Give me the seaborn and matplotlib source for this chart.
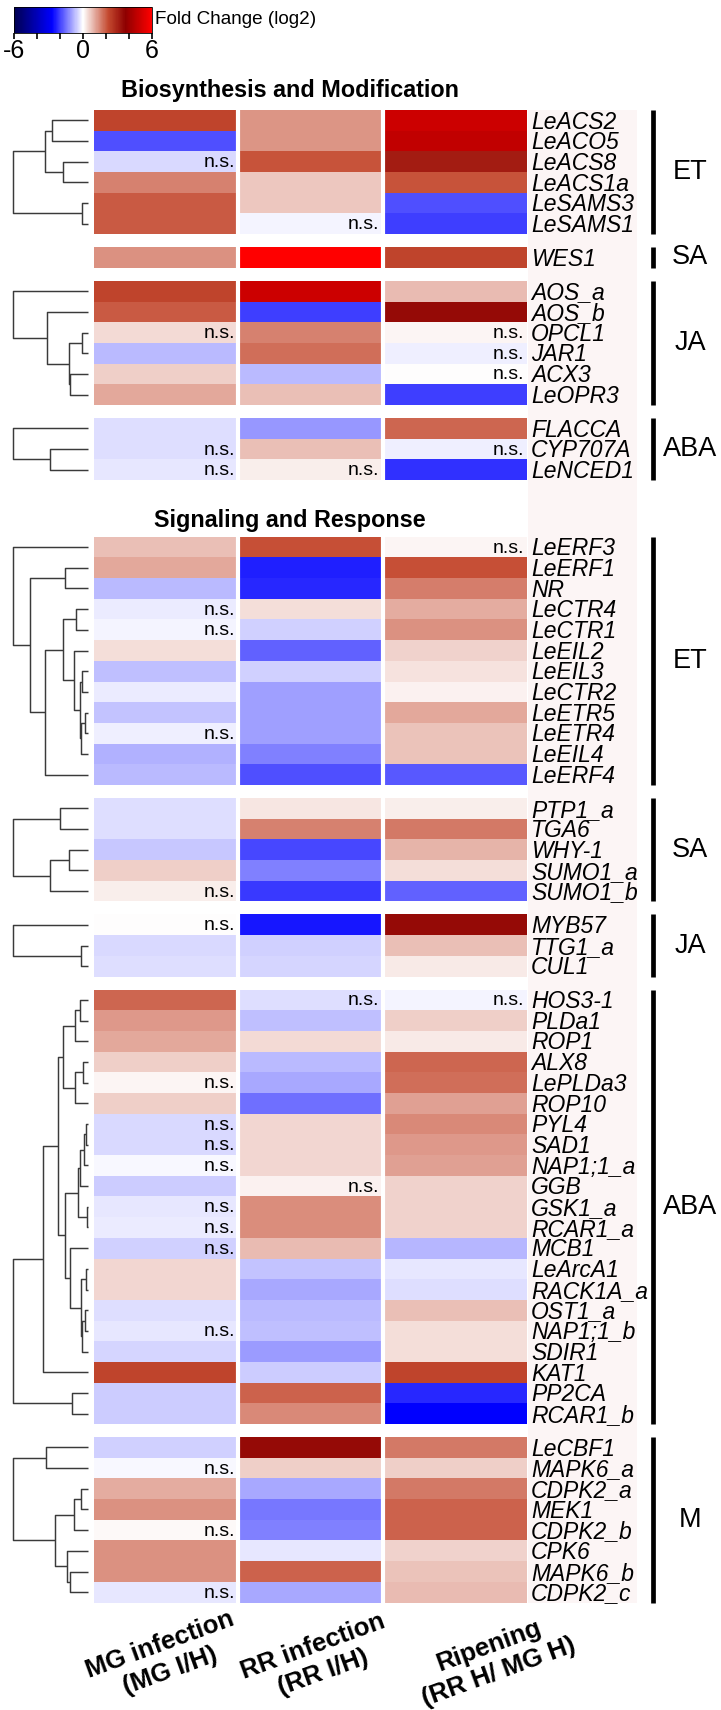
import numpy as np
import pandas as pd
import matplotlib
matplotlib.use("Agg")
import matplotlib.pyplot as plt
import seaborn as sns
from matplotlib.colors import LinearSegmentedColormap

plt.rcParams['font.family'] = ['Liberation Sans', 'DejaVu Sans']
plt.rcParams['axes.unicode_minus'] = False

# ---------------- data ----------------
conditions = ['MG infection\n(MG I/H)', 'RR infection\n(RR I/H)', 'Ripening\n(RR H/ MG H)']
cbar_ticks = [-6, 0, 6]
cbar_minor = [-4, -2, 2, 4]

sections = ['Biosynthesis and Modification', 'Signaling and Response']

bio_et_genes = ['LeACS2', 'LeACO5', 'LeACS8', 'LeACS1a', 'LeSAMS3', 'LeSAMS1']
bio_et_vals = [[2.3, 1.29, 4.96], [-1.85, 1.29, 4.72], [-0.41, 2.1, 3.1],
               [1.52, 0.67, 2.1], [2.0, 0.67, -1.85], [2.0, -0.1, -2.02]]
bio_et_ns = [('LeACS8', 0), ('LeSAMS1', 1)]
bio_et_tree = (1.0, (0.574, (0.475, 0, 1), (0.327, 2, 3)), (0.074, 4, 5))

bio_sa_genes = ['WES1']
bio_sa_vals = [[1.35, 6.0, 2.3]]
bio_sa_ns = []
bio_sa_tree = None

bio_ja_genes = ['AOS_a', 'AOS_b', 'OPCL1', 'JAR1', 'ACX3', 'LeOPR3']
bio_ja_vals = [[2.3, 4.96, 0.84], [2.0, -2.02, 3.5], [0.43, 1.54, 0.1],
               [-0.75, 1.74, -0.16], [0.6, -0.75, 0.0], [1.06, 0.77, -2.02]]
bio_ja_ns = [('OPCL1', 0), ('OPCL1', 2), ('JAR1', 2), ('ACX3', 2)]
bio_ja_tree = (1.0, 0, (0.55, 1, (0.26, (0.074, 2, 3), (0.235, 4, 5))))

bio_aba_genes = ['FLACCA', 'CYP707A', 'LeNCED1']
bio_aba_vals = [[-0.37, -1.09, 1.84], [-0.37, 0.77, -0.18], [-0.24, 0.21, -2.19]]
bio_aba_ns = [('CYP707A', 0), ('CYP707A', 2), ('LeNCED1', 0), ('LeNCED1', 1)]
bio_aba_tree = (1.0, 0, (0.512, 1, 2))

sig_et_genes = ['LeERF3', 'LeERF1', 'NR', 'LeCTR4', 'LeCTR1', 'LeEIL2', 'LeEIL3',
                'LeCTR2', 'LeETR5', 'LeETR4', 'LeEIL4', 'LeERF4']
sig_et_vals = [[0.77, 2.13, 0.12], [1.06, -2.36, 2.13], [-0.75, -2.28, 1.57],
               [-0.2, 0.38, 1.0], [-0.1, -0.5, 1.35], [0.38, -1.68, 0.55],
               [-0.67, -0.5, 0.35], [-0.2, -1.0, 0.16], [-0.62, -1.0, 1.06],
               [-0.18, -1.0, 0.72], [-0.8, -1.34, 0.72], [-0.75, -1.85, -1.75]]
sig_et_ns = [('LeERF3', 2), ('LeCTR4', 0), ('LeCTR1', 0), ('LeETR4', 0)]
sig_et_tree = (1.0, 0, (0.77, (0.31, 1, 2),
                        (0.574, (0.34, (0.154, 3, 4),
                                 (0.185, 5, (0.111, (0.074, 6, 7), (0.09, (0.043, 8, 9), 10)))), 11)))

sig_sa_genes = ['PTP1_a', 'TGA6', 'WHY-1', 'SUMO1_a', 'SUMO1_b']
sig_sa_vals = [[-0.33, 0.3, 0.19], [-0.37, 1.54, 1.62], [-0.58, -1.94, 0.91],
               [0.6, -1.34, 0.38], [0.21, -2.1, -1.68]]
sig_sa_ns = [('SUMO1_b', 0)]
sig_sa_tree = (1.0, (0.37, 0, 1), (0.512, (0.247, 2, 3), 4))

sig_ja_genes = ['MYB57', 'TTG1_a', 'CUL1']
sig_ja_vals = [[0.0, -2.45, 3.5], [-0.41, -0.5, 0.77], [-0.37, -0.45, 0.24]]
sig_ja_ns = [('MYB57', 0)]
sig_ja_tree = (1.0, 0, (0.093, 1, 2))

sig_aba_genes = ['HOS3-1', 'PLDa1', 'ROP1', 'ALX8', 'LePLDa3', 'ROP10', 'PYL4', 'SAD1',
                 'NAP1;1_a', 'GGB', 'GSK1_a', 'RCAR1_a', 'MCB1', 'LeArcA1', 'RACK1A_a',
                 'OST1_a', 'NAP1;1_b', 'SDIR1', 'KAT1', 'PP2CA', 'RCAR1_b']
sig_aba_vals = [[1.84, -0.35, -0.1], [1.25, -0.67, 0.57], [1.06, 0.43, 0.24],
                [0.57, -0.75, 1.84], [0.13, -0.92, 1.74], [0.6, -1.51, 1.15],
                [-0.41, 0.47, 1.42], [-0.41, 0.47, 1.25], [-0.05, 0.47, 1.15],
                [-0.54, 0.16, 0.55], [-0.26, 1.4, 0.55], [-0.2, 1.4, 0.55],
                [-0.5, 0.81, -0.79], [0.47, -0.62, -0.26], [0.47, -0.92, -0.37],
                [-0.37, -0.71, 0.77], [-0.26, -0.67, 0.38], [-0.44, -1.05, 0.38],
                [2.32, -0.54, 2.32], [-0.54, 1.88, -2.28], [-0.54, 1.42, -2.7]]
sig_aba_ns = [('HOS3-1', 1), ('HOS3-1', 2), ('LePLDa3', 0), ('PYL4', 0), ('SAD1', 0),
              ('NAP1;1_a', 0), ('GGB', 1), ('GSK1_a', 0), ('RCAR1_a', 0), ('MCB1', 0),
              ('NAP1;1_b', 0)]
sig_aba_tree = (1.0,
                (0.60, (0.40, (0.327, (0.173, (0.111, 0, 1), 2), (0.173, (0.062, 3, 4), 5)),
                        (0.31, (0.136, (0.111, (0.05, (0.031, 6, 7), 8), 9), (0.012, 10, 11)),
                               (0.24, 12, (0.093, (0.031, 13, 14), (0.074, (0.043, 15, 16), 17))))),
                 18),
                (0.216, 19, 20))

sig_m_genes = ['LeCBF1', 'MAPK6_a', 'CDPK2_a', 'MEK1', 'CDPK2_b', 'CPK6', 'MAPK6_b', 'CDPK2_c']
sig_m_vals = [[-0.5, 3.5, 1.62], [-0.05, 0.58, 0.58], [1.0, -0.92, 1.64],
              [1.35, -1.43, 1.88], [0.08, -1.34, 1.88], [1.35, -0.26, 0.52],
              [1.35, 1.88, 0.72], [-0.24, -0.92, 0.81]]
sig_m_ns = [('MAPK6_a', 0), ('CDPK2_b', 0), ('CDPK2_c', 0)]
sig_m_tree = (1.0, (0.556, 0, 1), (0.444, (0.185, (0.093, 2, 3), 4), (0.28, 5, (0.235, 6, 7))))

groups = [
    (0, 'ET', bio_et_genes, bio_et_vals, bio_et_ns, bio_et_tree),
    (0, 'SA', bio_sa_genes, bio_sa_vals, bio_sa_ns, bio_sa_tree),
    (0, 'JA', bio_ja_genes, bio_ja_vals, bio_ja_ns, bio_ja_tree),
    (0, 'ABA', bio_aba_genes, bio_aba_vals, bio_aba_ns, bio_aba_tree),
    (1, 'ET', sig_et_genes, sig_et_vals, sig_et_ns, sig_et_tree),
    (1, 'SA', sig_sa_genes, sig_sa_vals, sig_sa_ns, sig_sa_tree),
    (1, 'JA', sig_ja_genes, sig_ja_vals, sig_ja_ns, sig_ja_tree),
    (1, 'ABA', sig_aba_genes, sig_aba_vals, sig_aba_ns, sig_aba_tree),
    (1, 'M', sig_m_genes, sig_m_vals, sig_m_ns, sig_m_tree),
]

# ---------------- style / layout ----------------
W, H = 721, 1710
fig = plt.figure(figsize=(W / 100, H / 100), dpi=100)
fig.patch.set_facecolor('white')

def add_ax(x0, y0, x1, y1, **kw):
    return fig.add_axes([x0 / W, 1 - y1 / H, (x1 - x0) / W, (y1 - y0) / H], **kw)

cmap_nodes = [(-6, '#000050'), (-2.7, '#0000ff'), (0, '#ffffff'),
              (2.2, '#c44a30'), (3.7, '#8e0000'), (6, '#ff0000')]
cmap = LinearSegmentedColormap.from_list('fc', [((v + 6) / 12, c) for v, c in cmap_nodes])

ROW_H = 20.69
GAP = 13.0
TOP = 110.0
SECTION_EXTRA = 43.7
HM_X0, HM_X1 = 94, 527
DEN_X0, DEN_X1 = 13, 88
LAB_X0, LAB_X1 = 528, 637
BAR_X = 652.5
GRP_X = 690

overlay = add_ax(0, 0, W, H)
overlay.set_xlim(0, W)
overlay.set_ylim(H, 0)
overlay.axis('off')
overlay.set_zorder(-1)

layout = []
y = TOP
prev_sec = 0
for sec, name, genes, vals, ns, tree in groups:
    if sec != prev_sec:
        y += SECTION_EXTRA
        prev_sec = sec
    top = y
    bot = y + len(genes) * ROW_H
    layout.append((top, bot))
    y = bot + GAP

overlay.add_patch(plt.Rectangle((LAB_X0, layout[0][0]), LAB_X1 - LAB_X0,
                                layout[-1][1] - layout[0][0], facecolor='#fcf5f5',
                                edgecolor='none', zorder=0))

def draw_tree(ax, node):
    if isinstance(node, int):
        return node + 0.5, 0.0
    h, a, b = node
    ya, ha = draw_tree(ax, a)
    yb, hb = draw_tree(ax, b)
    ax.plot([ha, h, h, hb], [ya, ya, yb, yb], color='#3a3a3a', lw=1.05,
            solid_capstyle='butt', clip_on=False)
    return (ya + yb) / 2, h

mappable = None
for (sec, name, genes, vals, ns, tree), (top, bot) in zip(groups, layout):
    n = len(genes)
    df = pd.DataFrame(vals, index=genes, columns=conditions)
    ax = add_ax(HM_X0, top, HM_X1, bot)
    sns.heatmap(df, ax=ax, cmap=cmap, vmin=-6, vmax=6, cbar=False,
                xticklabels=False, yticklabels=False)
    ax.set_xlabel('')
    ax.set_ylabel('')
    if mappable is None:
        mappable = ax.collections[0]
    for xv in (1, 2):
        ax.axvline(xv, color='white', lw=3)
    for i, g in enumerate(genes):
        ax.annotate(g, xy=(3, i + 0.5), xytext=(4, -8.2), textcoords='offset pixels',
                    ha='left', va='baseline', style='italic', fontsize=16.5,
                    annotation_clip=False)
    for g, j in ns:
        i = genes.index(g)
        ax.annotate('n.s.', xy=(j + 1, i + 0.5), xytext=(-3, -5.5),
                    textcoords='offset pixels', ha='right', va='baseline',
                    fontsize=14, annotation_clip=False)
    if tree is not None:
        dax = add_ax(DEN_X0, top, DEN_X1, bot)
        dax.set_xlim(1.0, 0.0)
        dax.set_ylim(n, 0)
        dax.axis('off')
        draw_tree(dax, tree)
    overlay.plot([BAR_X, BAR_X], [top, bot], color='black', lw=3.4, solid_capstyle='butt')
    overlay.text(GRP_X, (top + bot) / 2, name, ha='center', va='center', fontsize=19.5)

title_x = 290
overlay.text(title_x, 97, sections[0], ha='center', va='baseline',
             fontsize=16.8, fontweight='bold')
overlay.text(title_x, layout[4][0] - 10, sections[1], ha='center', va='baseline',
             fontsize=16.8, fontweight='bold')

# column labels (rotated)
label_pos = [(165, 1658), (318, 1660), (494, 1659)]
for lab, (cx, cy) in zip(conditions, label_pos):
    overlay.text(cx, cy, lab, rotation=20, ha='center', va='center',
                 multialignment='center', fontsize=18.5, fontweight='bold', linespacing=1.2)

# colorbar
cax = add_ax(14, 7, 152, 33)
cb = fig.colorbar(mappable, cax=cax, orientation='horizontal', ticks=cbar_ticks)
cax.xaxis.set_ticks(cbar_minor, minor=True)
cax.tick_params(which='both', direction='out', length=4, width=1.2, labelsize=18, pad=0)
cb.outline.set_linewidth(0.6)
fig.text(155 / W, 1 - 20 / H, 'Fold Change (log2)', ha='left', va='center', fontsize=13.6)

fig.savefig('out.png', dpi=100)
